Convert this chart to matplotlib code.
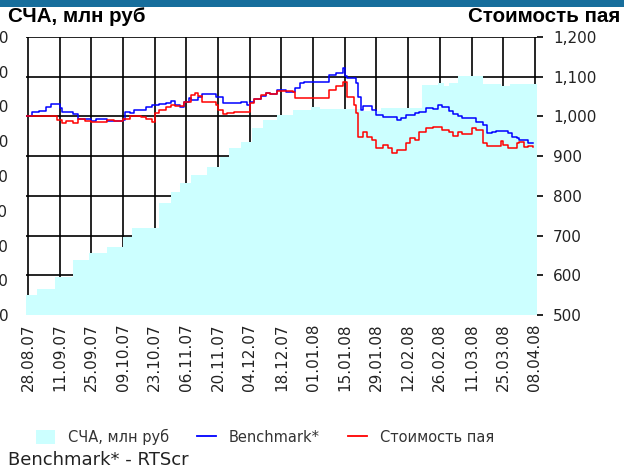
import numpy as np
import pandas as pd
import matplotlib
matplotlib.use("Agg")
import matplotlib.pyplot as plt
import matplotlib.dates as mdates
from matplotlib.patches import Rectangle, Patch
from matplotlib.lines import Line2D
from matplotlib.ticker import FuncFormatter

# NAV of the fund (left axis, mln rub), step-wise values
sca_dates = ["2007-08-27", "2007-09-01", "2007-09-09", "2007-09-17", "2007-09-24",
             "2007-10-02", "2007-10-09", "2007-10-13", "2007-10-25", "2007-10-30",
             "2007-11-03", "2007-11-08", "2007-11-15", "2007-11-21", "2007-11-25",
             "2007-11-30", "2007-12-05", "2007-12-10", "2007-12-16", "2007-12-23",
             "2007-12-31", "2008-01-04", "2008-01-22", "2008-01-31", "2008-02-18",
             "2008-02-25", "2008-02-28", "2008-03-01", "2008-03-05", "2008-03-16",
             "2008-03-24", "2008-03-28", "2008-04-09"]
sca_values = [115, 150, 219, 317, 357, 391, 449, 501, 645, 708,
              760, 806, 852, 909, 961, 996, 1076, 1122, 1151, 1180,
              1197, 1186, 1174, 1191, 1324, 1335, 1320, 1335, 1375, 1329,
              1320, 1329, 1329]

# unit price and benchmark (right axis)
price_dates = [
    "2007-08-27", "2007-08-30", "2007-09-02", "2007-09-05", "2007-09-07", "2007-09-10", "2007-09-11", "2007-09-12", "2007-09-14", "2007-09-17",
    "2007-09-19", "2007-09-22", "2007-09-25", "2007-09-27", "2007-09-30", "2007-10-02", "2007-10-05", "2007-10-09", "2007-10-10", "2007-10-12",
    "2007-10-14", "2007-10-17", "2007-10-19", "2007-10-21", "2007-10-22", "2007-10-23", "2007-10-25", "2007-10-28", "2007-10-30", "2007-11-01",
    "2007-11-03", "2007-11-05", "2007-11-07", "2007-11-08", "2007-11-10", "2007-11-11", "2007-11-13", "2007-11-16", "2007-11-18", "2007-11-19",
    "2007-11-20", "2007-11-22", "2007-11-24", "2007-11-27", "2007-11-30", "2007-12-03", "2007-12-04", "2007-12-06", "2007-12-09", "2007-12-11",
    "2007-12-13", "2007-12-15", "2007-12-16", "2007-12-20", "2007-12-23", "2007-12-24", "2007-12-26", "2007-12-28", "2008-01-02", "2008-01-07",
    "2008-01-08", "2008-01-11", "2008-01-13", "2008-01-14", "2008-01-15", "2008-01-16", "2008-01-19", "2008-01-20", "2008-01-21", "2008-01-22",
    "2008-01-23", "2008-01-25", "2008-01-27", "2008-01-29", "2008-02-01", "2008-02-03", "2008-02-05", "2008-02-07", "2008-02-09", "2008-02-11",
    "2008-02-13", "2008-02-15", "2008-02-17", "2008-02-20", "2008-02-23", "2008-02-25", "2008-02-27", "2008-03-01", "2008-03-03", "2008-03-05",
    "2008-03-07", "2008-03-09", "2008-03-11", "2008-03-13", "2008-03-15", "2008-03-16", "2008-03-18", "2008-03-20", "2008-03-22", "2008-03-24",
    "2008-03-25", "2008-03-27", "2008-03-29", "2008-03-31", "2008-04-01", "2008-04-03", "2008-04-05", "2008-04-07"]
benchmark = [
    1000, 1011, 1013, 1023, 1031, 1031, 1021, 1011, 1011, 1006,
    993, 993, 988, 993, 993, 988, 988, 991, 1011, 1008,
    1016, 1016, 1023, 1023, 1028, 1028, 1031, 1034, 1039, 1028,
    1023, 1036, 1046, 1041, 1041, 1049, 1056, 1056, 1056, 1049,
    1049, 1034, 1034, 1034, 1036, 1028, 1036, 1044, 1051, 1059,
    1056, 1056, 1067, 1061, 1061, 1071, 1084, 1087, 1087, 1087,
    1104, 1109, 1109, 1122, 1102, 1097, 1097, 1084, 1049, 1016,
    1026, 1026, 1016, 1003, 998, 998, 998, 991, 996, 1003,
    1003, 1008, 1011, 1021, 1018, 1028, 1023, 1013, 1006, 1001,
    996, 996, 996, 986, 986, 978, 958, 960, 963, 963,
    963, 958, 948, 945, 940, 940, 933, 933]
unit_price = [
    1000, 1001, 1001, 1001, 1001, 991, 991, 983, 988, 983,
    993, 988, 986, 986, 986, 991, 988, 993, 993, 1001,
    1001, 998, 993, 993, 986, 1008, 1016, 1023, 1029, 1026,
    1026, 1036, 1036, 1053, 1059, 1051, 1036, 1036, 1036, 1028,
    1016, 1006, 1008, 1011, 1011, 1011, 1034, 1044, 1053, 1059,
    1056, 1056, 1064, 1064, 1061, 1046, 1046, 1046, 1046, 1046,
    1067, 1076, 1076, 1087, 1087, 1049, 1028, 1008, 948, 948,
    960, 948, 940, 920, 928, 920, 907, 915, 915, 933,
    945, 940, 960, 970, 973, 973, 965, 960, 950, 960,
    955, 955, 970, 965, 965, 933, 925, 925, 925, 938,
    928, 920, 920, 933, 935, 923, 925, 923]

left_ticks = [0, 200, 400, 600, 800, 1000, 1200, 1400, 1600]
right_ticks = [500, 600, 700, 800, 900, 1000, 1100, 1200]
first_label = "2007-08-28"
n_labels = 17

sca_x = pd.to_datetime(sca_dates)
px = pd.to_datetime(price_dates)
label_dates = pd.date_range(first_label, periods=n_labels, freq="14D")
xlim = (pd.Timestamp("2007-08-27"), pd.Timestamp("2008-04-08 17:00"))

fill_color = "#ccffff"
W, H = 624, 471
fig = plt.figure(figsize=(W / 100, H / 100), dpi=100)
fig.patch.set_facecolor("white")
fig.add_artist(Rectangle((0, 1 - 7 / H), 1, 7 / H, transform=fig.transFigure,
                         color="#176e9c", lw=0))

rect = [25.7 / W, (H - 315) / H, (536.5 - 25.7) / W, (315 - 37) / H]

# background grid axis (drawn under the area)
axg = fig.add_axes(rect, zorder=0)
axg.set_xlim(*xlim)
axg.set_ylim(500, 1200)
axg.set_yticks(right_ticks)
axg.set_xticks(label_dates)
axg.grid(True, color="black", lw=1.2)
axg.tick_params(left=False, bottom=False, labelleft=False, labelbottom=False)
for s in axg.spines.values():
    s.set_visible(False)

# area axis (left scale)
axf = fig.add_axes(rect, zorder=1)
axf.patch.set_visible(False)
axf.fill_between(sca_x, sca_values, 0, step="post", color=fill_color, lw=0)
axf.set_xlim(*xlim)
axf.set_ylim(0, 1600)
axf.set_yticks(left_ticks)
axf.yaxis.set_major_formatter(FuncFormatter(lambda v, p: f"{v:,.0f}"))
axf.tick_params(axis="y", length=0, pad=12.5, labelsize=11, labelcolor="#222222")
axf.tick_params(axis="x", bottom=False, labelbottom=False)
for s in axf.spines.values():
    s.set_visible(False)

# lines axis (right scale)
axl = fig.add_axes(rect, zorder=2)
axl.patch.set_visible(False)
axl.plot(px, benchmark, color="#0000ff", lw=1.1, drawstyle="steps-post")
axl.plot(px, unit_price, color="#ff0000", lw=1.1, drawstyle="steps-post")
axl.set_xlim(*xlim)
axl.set_ylim(500, 1200)
axl.yaxis.tick_right()
axl.set_yticks(right_ticks)
axl.yaxis.set_major_formatter(FuncFormatter(lambda v, p: f"{v:,.0f}"))
axl.tick_params(axis="y", which="both", left=False, right=True, direction="out",
                length=4, width=1.2, pad=8, labelsize=11, labelcolor="#222222")
axl.set_xticks(label_dates)
axl.xaxis.set_major_formatter(mdates.DateFormatter("%d.%m.%y"))
axl.tick_params(axis="x", length=0, pad=6, labelsize=11, labelrotation=90,
                labelcolor="#222222")
for s in axl.spines.values():
    s.set_visible(False)

fig.text(8 / W, 1 - 16 / H, "СЧА, млн руб", fontsize=14.8, fontweight="bold",
         family="Liberation Sans", va="center", ha="left")
fig.text(620 / W, 1 - 16 / H, "Стоимость пая", fontsize=14.8, fontweight="bold",
         family="Liberation Sans", va="center", ha="right")

handles = [Patch(facecolor=fill_color, edgecolor="none"),
           Line2D([], [], color="#0000ff", lw=1.3),
           Line2D([], [], color="#ff0000", lw=1.3)]
labels = ["СЧА, млн руб", "Benchmark*", "Стоимость пая"]
leg = fig.legend(handles, labels, loc="center left", bbox_to_anchor=(36 / W, 1 - 437 / H),
                 ncol=3, frameon=False, fontsize=10.5, handlelength=1.3, handleheight=1.1,
                 handletextpad=0.9, columnspacing=1.9, borderaxespad=0, borderpad=0)
for t in leg.get_texts():
    t.set_color("#333333")

fig.text(8 / W, 1 - 460 / H, "Benchmark* - RTScr", fontsize=13, va="center", ha="left",
         color="#222222")

fig.savefig("out.png", dpi=100)
